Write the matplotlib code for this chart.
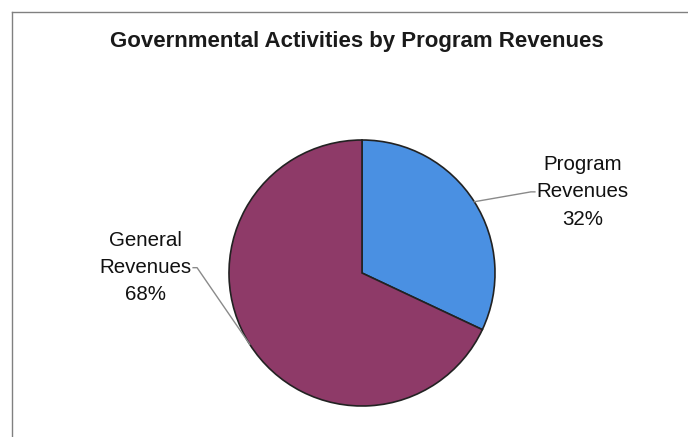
import numpy as np
import matplotlib.pyplot as plt
from matplotlib.lines import Line2D

plt.rcParams['font.family'] = ['Liberation Sans', 'DejaVu Sans']

labels = ['Program\nRevenues', 'General\nRevenues']
shares = [32, 68]
colors = ['#4A90E2', '#8E3A68']
title = 'Governmental Activities by Program Revenues'

# where each label block sits (axes data units, pie radius = 1)
label_pos = [(1.66, 0.61), (-1.63, 0.04)]

fig = plt.figure(figsize=(6.88, 4.37), dpi=100)
W, H = 688, 437

# chart area frame (only top and left edges show)
fig.add_artist(Line2D([12 / W, 12 / W], [0, 1 - 12 / H], color='#808080', lw=1))
fig.add_artist(Line2D([12 / W, 1], [1 - 12 / H, 1 - 12 / H], color='#808080', lw=1))

fig.text(357 / W, 1 - 42 / H, title, ha='center', va='center',
         fontsize=16, fontweight='bold', color='#1a1a1a')

cx, cy, r = 362, 273, 133
ax = fig.add_axes([(cx - r) / W, (H - cy - r) / H, 2 * r / W, 2 * r / H])
wedges, _ = ax.pie(shares, colors=colors, startangle=90, counterclock=False,
                   radius=1, wedgeprops=dict(edgecolor='#222222', linewidth=1.2))
ax.set_xlim(-1, 1)
ax.set_ylim(-1, 1)
ax.set_aspect('equal')
ax.axis('off')

for w, lab, val, (tx, ty), side in zip(wedges, labels, shares, label_pos, [1, -1]):
    ang = np.deg2rad((w.theta1 + w.theta2) / 2)
    px, py = np.cos(ang), np.sin(ang)
    txt = '%s\n%d%%' % (lab, val)
    ax.text(tx, ty, txt, ha='center', va='center', fontsize=14.8,
            linespacing=1.55, color='#111111', clip_on=False)
    # leader line: short horizontal stub next to the middle text line, then to the rim
    hx = tx - side * 0.39
    ax.plot([hx + side * 0.03, hx, px * 1.0], [ty, ty, py], color='#8a8a8a',
            lw=1, clip_on=False)

fig.savefig('out.png', dpi=100)
